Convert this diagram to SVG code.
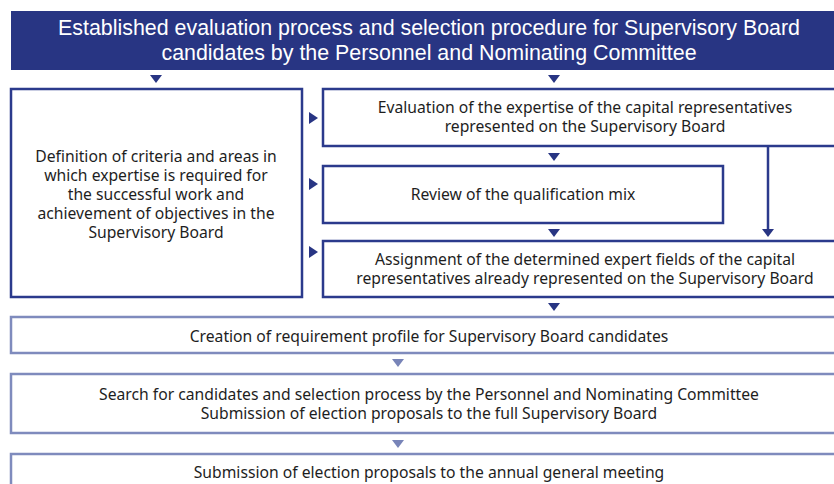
<svg xmlns="http://www.w3.org/2000/svg" width="834" height="484" viewBox="0 0 834 484">
<style>
.hd{font-family:"Liberation Sans",Arial,sans-serif;font-size:21.4px;fill:#ffffff;text-anchor:middle}
.t{font-family:"Noto Sans","Open Sans",sans-serif;font-size:15.7px;fill:#1e1e1e;text-anchor:middle}
.bx{fill:#ffffff;stroke:#2b3a8c;stroke-width:2.5}
.lb{fill:#ffffff;stroke:#7f8bbd;stroke-width:2.5}
.ad{fill:#283583}
.al{fill:#7884b8}
</style>
<rect width="834" height="484" fill="#ffffff"/>
<g id="header">
<rect x="11" y="11" width="840" height="59" fill="#283583"/>
<text class="hd" x="429" y="35">Established evaluation process and selection procedure for Supervisory Board</text>
<text class="hd" x="429" y="60">candidates by the Personnel and Nominating Committee</text>
</g>
<g id="criteria">
<rect class="bx" x="11" y="89" width="291" height="208"/>
<text class="t" x="156" y="162">Definition of criteria and areas in</text>
<text class="t" x="156" y="181">which expertise is required for</text>
<text class="t" x="156" y="200">the successful work and</text>
<text class="t" x="156" y="219">achievement of objectives in the</text>
<text class="t" x="156" y="238">Supervisory Board</text>
</g>
<g id="evaluation">
<rect class="bx" x="323" y="89" width="530" height="57"/>
<text class="t" x="585" y="113">Evaluation of the expertise of the capital representatives</text>
<text class="t" x="585" y="132">represented on the Supervisory Board</text>
</g>
<g id="review">
<rect class="bx" x="323" y="166" width="400" height="57"/>
<text class="t" x="523" y="200">Review of the qualification mix</text>
</g>
<g id="assignment">
<rect class="bx" x="323" y="241" width="530" height="56"/>
<text class="t" x="585" y="265">Assignment of the determined expert fields of the capital</text>
<text class="t" x="585" y="284">representatives already represented on the Supervisory Board</text>
</g>
<g id="profile">
<rect class="lb" x="11" y="317" width="850" height="36"/>
<text class="t" x="429" y="342">Creation of requirement profile for Supervisory Board candidates</text>
</g>
<g id="search">
<rect class="lb" x="11" y="374" width="850" height="59"/>
<text class="t" x="429" y="400">Search for candidates and selection process by the Personnel and Nominating Committee</text>
<text class="t" x="429" y="419">Submission of election proposals to the full Supervisory Board</text>
</g>
<g id="agm">
<rect class="lb" x="11" y="454" width="850" height="50"/>
<text class="t" x="429" y="478">Submission of election proposals to the annual general meeting</text>
</g>
<g id="connectors">
<polygon class="ad" points="150,75 162,75 156,83"/>
<polygon class="ad" points="548,75 560,75 554,83"/>
<polygon class="ad" points="309,112 318,118 309,124"/>
<polygon class="ad" points="309,178 318,184 309,190"/>
<polygon class="ad" points="309,246 318,252 309,258"/>
<polygon class="ad" points="548,153 560,153 554,161"/>
<polygon class="ad" points="548,229 560,229 554,237"/>
<polygon class="ad" points="548,303 560,303 554,311"/>
<line x1="768" y1="146" x2="768" y2="231" stroke="#2b3a8c" stroke-width="2.5"/>
<polygon class="ad" points="762,229 774,229 768,237"/>
<polygon class="al" points="392,359 404,359 398,367"/>
<polygon class="al" points="392,440 404,440 398,448"/>
</g>
</svg>
